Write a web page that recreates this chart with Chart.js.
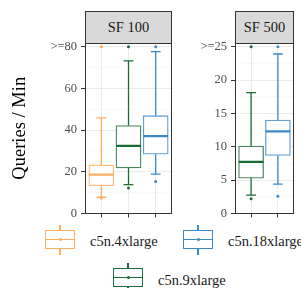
<!DOCTYPE html>
<html><head><meta charset="utf-8">
<script src="https://cdn.jsdelivr.net/npm/chart.js@4"></script>
<style>
html,body{margin:0;padding:0;background:#fff}
body{width:301px;height:288px;overflow:hidden;position:relative;font-family:"Liberation Serif","DejaVu Serif",serif}
.wrap{position:absolute}
.strip{position:absolute;background:#d9d9d9;border:1px solid #333;box-sizing:border-box;text-align:center;line-height:31px;font-size:14.5px;font-weight:400;color:#1a1a1a;font-family:"Liberation Serif",serif}
.key{position:absolute;width:30px;height:30px}
.key .rect{position:absolute;left:0;top:5px;width:30px;height:19px;box-sizing:border-box;border:1.3px solid currentColor}
.key .mid{position:absolute;left:0;top:14px;width:30px;height:1.3px;background:currentColor}
.key .wt{position:absolute;left:14.4px;top:0;width:1.3px;height:5px;background:currentColor}
.key .wb{position:absolute;left:14.4px;top:24px;width:1.3px;height:6px;background:currentColor}
.key .dot{position:absolute;left:13.5px;top:13.2px;width:3px;height:3px;border-radius:50%;background:currentColor}
.lab{position:absolute;font-size:14.5px;line-height:16px;color:#1a1a1a;white-space:nowrap;font-family:"Liberation Serif",serif}
</style></head>
<body>
<div class="strip" style="left:85px;top:11px;width:87px;height:33px">SF 100</div>
<div class="strip" style="left:235px;top:11px;width:59px;height:33px">SF 500</div>
<div class="wrap" style="left:0;top:30px;width:180px;height:195px"><canvas id="c1"></canvas></div>
<div class="wrap" style="left:185px;top:30px;width:116px;height:195px"><canvas id="c2"></canvas></div>
<div id="legend"></div>
<script>
// ---- data ----
const seriesNames = ['c5n.4xlarge', 'c5n.9xlarge', 'c5n.18xlarge'];
const seriesColors = ['#fdae61', '#1b6b35', '#3a8ac4'];

const panelTitles = ['SF 100', 'SF 500'];

// SF 100 panel
const sf100Series = [0, 1, 2];
const sf100Q1 = [13.3, 21.8, 28.4];
const sf100Median = [18.6, 32.4, 37.1];
const sf100Q3 = [23.3, 42.2, 46.9];
const sf100Lower = [7.8, 13.8, 18.9];
const sf100Upper = [45.9, 73.2, 77.6];
const sf100Outliers = [[7.4, 80], [12.2, 80], [15.4, 80]];
const sf100MajorTicks = [0, 20, 40, 60, 80];
const sf100MinorTicks = [10, 30, 50, 70];
const sf100TickLabels = ['0', '20', '40', '60', '>=80'];
const sf100YMax = 81.76;

// SF 500 panel
const sf500Series = [1, 2];
const sf500Q1 = [5.3, 8.7];
const sf500Median = [7.75, 12.3];
const sf500Q3 = [10.1, 14.0];
const sf500Lower = [2.75, 4.4];
const sf500Upper = [18.1, 23.9];
const sf500Outliers = [[2.2, 25], [2.6, 25]];
const sf500MajorTicks = [0, 5, 10, 15, 20, 25];
const sf500MinorTicks = [2.5, 7.5, 12.5, 17.5, 22.5];
const sf500TickLabels = ['0', '5', '10', '15', '20', '>=25'];
const sf500YMax = 25.55;

// ---- helpers ----
function alpha(hex, a) {
  const n = parseInt(hex.slice(1), 16);
  return `rgba(${(n >> 16) & 255},${(n >> 8) & 255},${n & 255},${a})`;
}
const frame = {
  id: 'frame',
  afterDraw(chart) {
    const {ctx, chartArea: a} = chart;
    ctx.save();
    ctx.strokeStyle = '#333';
    ctx.lineWidth = 1;
    const l = Math.round(a.left) + 0.5, r = Math.round(a.right) - 0.5;
    const t = Math.round(a.top) + 0.5, b = Math.round(a.bottom) - 0.5;
    ctx.strokeRect(l, t, r - l, b - t);
    ctx.restore();
  }
};

function makePanel(id, p) {
  const n = p.series.length;
  const capHalf = 0.18, boxHalf = 0.46;
  const datasets = [];
  p.series.forEach((s, i) => {
    const x = i + 1;
    const c = seriesColors[s];
    datasets.push({
      type: 'bar', label: seriesNames[s],
      data: [{x: x, y: [p.q1[i], p.q3[i]]}],
      backgroundColor: '#ffffff', borderColor: alpha(c, 0.8), borderWidth: 1.3,
      borderSkipped: false, barThickness: 25, grouped: false, order: 3
    });
    datasets.push({
      type: 'line', label: seriesNames[s] + ' whiskers',
      data: [
        {x: x, y: p.q3[i]}, {x: x, y: p.up[i]}, {x: x, y: null},
        {x: x - capHalf, y: p.up[i]}, {x: x + capHalf, y: p.up[i]}, {x: x, y: null},
        {x: x, y: p.q1[i]}, {x: x, y: p.lo[i]}, {x: x, y: null},
        {x: x - capHalf, y: p.lo[i]}, {x: x + capHalf, y: p.lo[i]}
      ],
      borderColor: c, borderWidth: 1.3, pointRadius: 0, spanGaps: false, fill: false, order: 2
    });
    datasets.push({
      type: 'line', label: seriesNames[s] + ' median',
      data: [{x: x - boxHalf, y: p.med[i]}, {x: x + boxHalf, y: p.med[i]}],
      borderColor: c, borderWidth: 2.3, pointRadius: 0, fill: false, order: 1
    });
    datasets.push({
      type: 'scatter', label: seriesNames[s] + ' outliers',
      data: p.out[i].map(v => ({x: x, y: v})),
      backgroundColor: c, borderWidth: 0, pointRadius: 1.5, order: 0
    });
  });
  const allTicks = p.major.concat(p.minor).sort((a, b) => a - b);
  const isMajor = v => p.major.some(m => Math.abs(m - v) < 1e-9);
  return new Chart(document.getElementById(id), {
    type: 'bar',
    data: {datasets},
    options: {
      responsive: true, maintainAspectRatio: false, animation: false,
      layout: {padding: {top: 13, bottom: 6, left: 0, right: p.padRight}},
      plugins: {legend: {display: false}, tooltip: {enabled: false}},
      scales: {
        x: {
          type: 'linear', min: 0.4, max: n + 0.6, offset: false,
          afterBuildTicks: sc => { sc.ticks = p.series.map((s, i) => ({value: i + 1})); },
          afterFit: sc => { sc.height = 4; },
          ticks: {display: false},
          border: {display: false},
          grid: {offset: false, color: '#ebebeb', lineWidth: 1, tickColor: '#333', tickLength: 4, tickWidth: 1}
        },
        y: {
          type: 'linear', min: 0, max: p.yMax,
          afterBuildTicks: sc => { sc.ticks = allTicks.map(v => ({value: v})); },
          afterFit: sc => { sc.width = p.axisWidth; },
          border: {display: false},
          ticks: {
            autoSkip: false, padding: 4, color: '#4d4d4d',
            font: {family: '"Liberation Serif", serif', size: 12.5},
            callback: v => { const k = p.major.findIndex(m => Math.abs(m - v) < 1e-9); return k >= 0 ? p.labels[k] : ''; }
          },
          grid: {
            color: ctx => isMajor(ctx.tick.value) ? '#ebebeb' : '#f4f4f4',
            lineWidth: ctx => isMajor(ctx.tick.value) ? 1 : 0.6,
            tickColor: ctx => isMajor(ctx.tick.value) ? '#333' : 'rgba(0,0,0,0)',
            tickLength: 4, tickWidth: 1
          },
          title: p.title ? {
            display: true, text: p.title, color: '#000',
            font: {family: '"Liberation Serif", serif', size: 18.5},
            padding: {top: 9.5, bottom: 0}
          } : {display: false}
        }
      }
    },
    plugins: [frame]
  });
}

makePanel('c1', {
  series: sf100Series, q1: sf100Q1, med: sf100Median, q3: sf100Q3, lo: sf100Lower, up: sf100Upper,
  out: sf100Outliers, major: sf100MajorTicks, minor: sf100MinorTicks, labels: sf100TickLabels,
  yMax: sf100YMax, axisWidth: 85, padRight: 8, title: 'Queries / Min'
});
makePanel('c2', {
  series: sf500Series, q1: sf500Q1, med: sf500Median, q3: sf500Q3, lo: sf500Lower, up: sf500Upper,
  out: sf500Outliers, major: sf500MajorTicks, minor: sf500MinorTicks, labels: sf500TickLabels,
  yMax: sf500YMax, axisWidth: 50, padRight: 7, title: null
});

// ---- legend ----
const legendPos = [
  {key: [45, 225], text: [90, 233]},
  {key: [113, 263], text: [158, 272]},
  {key: [183, 225], text: [228, 233]}
];
const lg = document.getElementById('legend');
seriesNames.forEach((name, i) => {
  const pos = legendPos[i];
  const k = document.createElement('div');
  k.className = 'key';
  k.style.left = pos.key[0] + 'px'; k.style.top = pos.key[1] + 'px';
  k.style.color = seriesColors[i];
  k.innerHTML = '<div class="rect"></div><div class="mid"></div><div class="wt"></div><div class="wb"></div><div class="dot"></div>';
  lg.appendChild(k);
  const t = document.createElement('div');
  t.className = 'lab';
  t.style.left = pos.text[0] + 'px'; t.style.top = pos.text[1] + 'px';
  t.textContent = name;
  lg.appendChild(t);
});
</script>
</body></html>
